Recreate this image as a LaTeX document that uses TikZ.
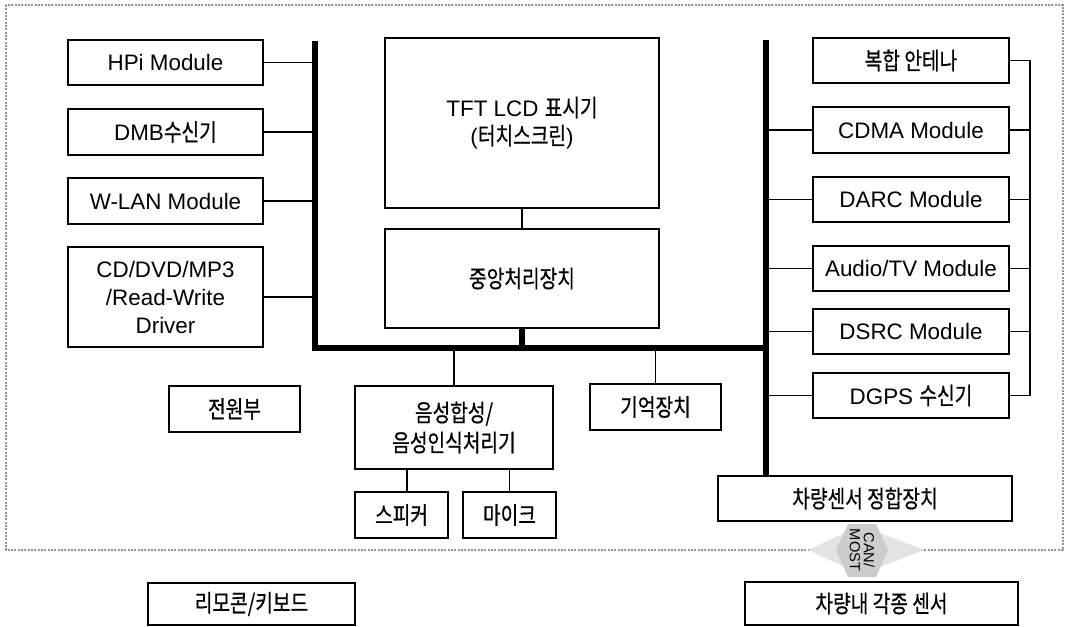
\documentclass[tikz,border=0pt]{standalone}
\usepackage{fontspec}
\setmainfont{Liberation Sans}
\newfontfamily\kr[FakeStretch=0.8,Scale=1.07,FakeBold=0.6]{Noto Sans CJK KR}
\usetikzlibrary{calc}
\begin{document}
\begin{tikzpicture}[x=0.75pt,y=-0.75pt,
  box/.style={draw, line width=1.1pt, inner sep=0pt, align=center, font=\fontsize{16.8}{21}\selectfont},
  wire/.style={line width=0.9pt},
  bus/.style={line width=4.2pt, line join=miter},
  frame/.style={draw=gray!85, line width=1.5pt, densely dotted}]
\useasboundingbox (0,0) rectangle (1065,626);
\newcommand\mybox[6]{\node[box, minimum width={(#4-#2)*0.75pt}, minimum height={(#5-#3)*0.75pt}] (#1) at ({(#2+#4)/2},{(#3+#5)/2}) {#6};}
% frame
\draw[frame] (6,5) rectangle (1063,550);
% left column
\mybox{hpi}{68}{40}{263}{85}{HPi Module}
\mybox{dmb}{68}{109}{263}{155}{DMB{\kr 수신기}}
\mybox{wlan}{68}{178}{263}{224}{W-LAN Module}
\mybox{cd}{68}{247}{263}{347}{CD/DVD/MP3\\/Read-Write\\Driver}
% centre
\mybox{tft}{385}{38}{659}{208}{TFT LCD {\kr 표시기}\\({\kr 터치스크린})}
\mybox{cpu}{385}{229}{659}{328}{\kr 중앙처리장치}
\mybox{power}{169}{386}{300}{432}{\kr 전원부}
\node[box, minimum width={(553-355)*0.75pt}, minimum height={(469-386)*0.75pt}, font=\fontsize{16.8}{22.5}\selectfont] (voice) at ({(355+553)/2},{(386+469)/2}) {\kr 음성합성/\\\kr 음성인식처리기};
\mybox{spk}{355}{492}{448}{538}{\kr 스피커}
\mybox{mic}{463}{492}{556}{538}{\kr 마이크}
\mybox{mem}{590}{384}{721}{430}{\kr 기억장치}
% right column
\mybox{ant}{813}{38}{1009}{83}{\kr 복합 안테나}
\mybox{cdma}{813}{107}{1009}{153}{CDMA Module}
\mybox{darc}{813}{177}{1009}{222}{DARC Module}
\mybox{av}{813}{246}{1009}{291}{Audio/TV Module}
\mybox{dsrc}{813}{309}{1009}{354}{DSRC Module}
\mybox{dgps}{813}{373}{1009}{418}{DGPS {\kr 수신기}}
\mybox{vsi}{718}{476}{1012}{521}{\kr 차량센서 정합장치}
\mybox{sens}{745}{582}{1018}{625}{\kr 차량내 각종 센서}
\mybox{remote}{148}{583}{355}{625}{\kr 리모콘/키보드}
% buses
\coordinate (lbTop) at (315,41);
\coordinate (lbBot) at (315,348);
\coordinate (rbTop) at (766,40);
\coordinate (rbMid) at (766,348);
\draw[bus] (lbTop) -- (lbBot) -- (rbMid);
\draw[bus] (rbTop) -- (rbTop |- vsi.north);
\draw[bus] (cpu.south) -- (cpu.south |- lbBot);
% left connectors
\foreach \n in {hpi,dmb,wlan,cd} \draw[wire] (\n.east) -- (\n.east -| lbTop);
% centre connectors
\draw[wire] (tft.south) -- (cpu.north);
\draw[wire] (voice.north) -- (voice.north |- lbBot);
\draw[wire] (mem.north) -- (mem.north |- lbBot);
\coordinate (spkc) at (407,492);
\draw[wire] (spkc |- voice.south) -- (spkc);
\draw[wire] (mic.north |- voice.south) -- (mic.north);
% right connectors
\foreach \n in {cdma,darc,av,dsrc,dgps} \draw[wire] (\n.west -| rbTop) -- (\n.west);
\coordinate (rr) at (1030,0);
\draw[wire] (ant.east) -- (ant.east -| rr) -- (dgps.east -| rr) -- (dgps.east);
\foreach \n in {cdma,darc,av,dsrc} \draw[wire] (\n.east) -- (\n.east -| rr);
% CAN/MOST link
\coordinate (cm) at (862,550);
\fill[gray!22] (808,550) -- (845,533) -- (880,533) -- (924,550) -- (880,567) -- (845,567) -- cycle;
\fill[gray!40] (836,550) -- (848,524) -- (876,524) -- (888,550) -- (876,577) -- (848,577) -- cycle;
\node[rotate=-90, align=center, inner sep=0pt, font=\fontsize{11}{10.5}\selectfont] (can) at (cm) {CAN/\\MOST};
\end{tikzpicture}
\end{document}
